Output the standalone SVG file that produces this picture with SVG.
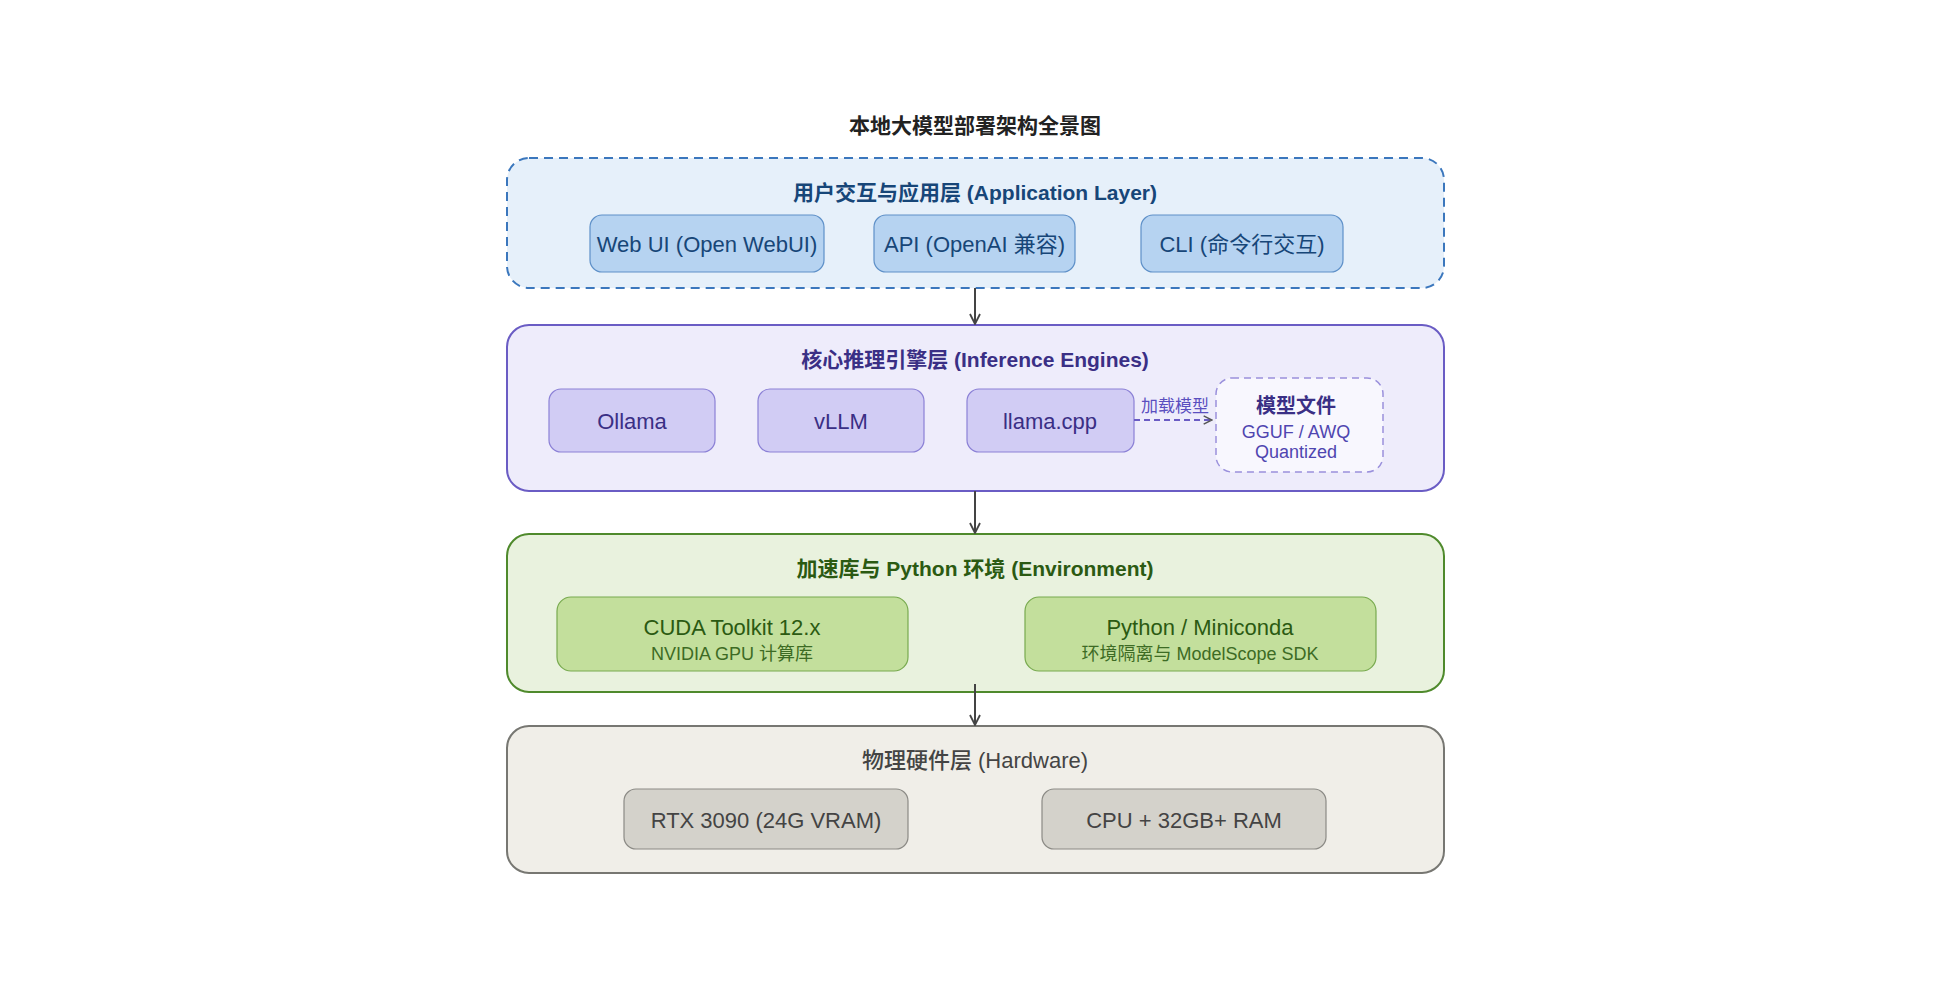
<svg xmlns="http://www.w3.org/2000/svg" width="1960" height="1000" viewBox="0 0 1960 1000">
<defs>
<marker id="arr" viewBox="0 0 12 12" refX="11" refY="6" markerWidth="12" markerHeight="12" markerUnits="userSpaceOnUse" orient="auto">
<path d="M1,1 L11,6 L1,11" fill="none" stroke="#444" stroke-width="1.8"/>
</marker>
<marker id="arr2" viewBox="0 0 12 12" refX="11" refY="6" markerWidth="10" markerHeight="10" markerUnits="userSpaceOnUse" orient="auto">
<path d="M1,1 L11,6 L1,11" fill="none" stroke="#555" stroke-width="1.8"/>
</marker>
</defs>
<style>
text{font-family:"Liberation Sans","Noto Sans CJK SC",sans-serif;text-anchor:middle;dominant-baseline:central}
.title{font-size:21px;font-weight:700;fill:#222}
.lt{font-size:21px;font-weight:700}
.nt{font-size:22px}
.st{font-size:18px}
.l1{fill:#e6f0fa;stroke:#3b77bd;stroke-width:2;stroke-dasharray:9 6}
.n1{fill:#b6d3f1;stroke:#5e90c8;stroke-width:1.2}
.t1{fill:#174678}
.l2{fill:#eeecfb;stroke:#6a5cc4;stroke-width:2}
.n2{fill:#d1ccf4;stroke:#8b80d6;stroke-width:1.2}
.t2{fill:#3a2f85}
.mf{fill:#f8f7fe;stroke:#9a90dc;stroke-width:1.5;stroke-dasharray:7 5}
.l3{fill:#e9f2de;stroke:#4f8a2c;stroke-width:2}
.n3{fill:#c3df9c;stroke:#78aa4f;stroke-width:1.2}
.t3{fill:#2b5a12}
.l4{fill:#f0eee8;stroke:#777772;stroke-width:2}
.n4{fill:#d4d2cb;stroke:#8b8a85;stroke-width:1.2}
.t4{fill:#444}
.conn{stroke:#444;stroke-width:2;fill:none}
</style>
<text class="title" x="975" y="125">本地大模型部署架构全景图</text>

<g id="layer-app">
<rect class="l1" x="507" y="158" width="937" height="130" rx="22"/>
<text class="lt t1" x="975" y="192">用户交互与应用层 (Application Layer)</text>
</g>
<g id="webui"><rect class="n1" x="590" y="215" width="234" height="57" rx="12"/><text class="nt t1" x="707" y="244">Web UI (Open WebUI)</text></g>
<g id="api"><rect class="n1" x="874" y="215" width="201" height="57" rx="12"/><text class="nt t1" x="974.5" y="244">API (OpenAI 兼容)</text></g>
<g id="cli"><rect class="n1" x="1141" y="215" width="202" height="57" rx="12"/><text class="nt t1" x="1242" y="244">CLI (命令行交互)</text></g>

<g id="layer-engine">
<rect class="l2" x="507" y="325" width="937" height="166" rx="22"/>
<text class="lt t2" x="975" y="359">核心推理引擎层 (Inference Engines)</text>
</g>
<g id="ollama"><rect class="n2" x="549" y="389" width="166" height="63" rx="12"/><text class="nt t2" x="632" y="421">Ollama</text></g>
<g id="vllm"><rect class="n2" x="758" y="389" width="166" height="63" rx="12"/><text class="nt t2" x="841" y="421">vLLM</text></g>
<g id="llamacpp"><rect class="n2" x="967" y="389" width="167" height="63" rx="12"/><text class="nt t2" x="1050" y="421">llama.cpp</text></g>
<g id="modelfile">
<rect class="mf" x="1216" y="378" width="167" height="94" rx="16"/>
<text class="t2" x="1296" y="406" style="font-size:20px;font-weight:700">模型文件</text>
<text x="1296" y="432" style="font-size:18px;fill:#4f45b0">GGUF / AWQ</text>
<text x="1296" y="452" style="font-size:18px;fill:#4f45b0">Quantized</text>
</g>

<g id="layer-env">
<rect class="l3" x="507" y="534" width="937" height="158" rx="22"/>
<text class="lt t3" x="975" y="568">加速库与 Python 环境 (Environment)</text>
</g>
<g id="cuda"><rect class="n3" x="557" y="597" width="351" height="74" rx="14"/><text class="nt t3" x="732" y="627">CUDA Toolkit 12.x</text><text class="st" x="732" y="654" style="fill:#3d6b24">NVIDIA GPU 计算库</text></g>
<g id="python"><rect class="n3" x="1025" y="597" width="351" height="74" rx="14"/><text class="nt t3" x="1200" y="627">Python / Miniconda</text><text class="st" x="1200" y="654" style="fill:#3d6b24">环境隔离与 ModelScope SDK</text></g>

<g id="layer-hw">
<rect class="l4" x="507" y="726" width="937" height="147" rx="22"/>
<text class="t4" x="975" y="760" style="font-size:22px;font-weight:500">物理硬件层 (Hardware)</text>
</g>
<g id="rtx"><rect class="n4" x="624" y="789" width="284" height="60" rx="12"/><text class="nt t4" x="766" y="820">RTX 3090 (24G VRAM)</text></g>
<g id="cpu"><rect class="n4" x="1042" y="789" width="284" height="60" rx="12"/><text class="nt t4" x="1184" y="820">CPU + 32GB+ RAM</text></g>

<g id="connectors">
<line class="conn" x1="975" y1="288" x2="975" y2="324" marker-end="url(#arr)"/>
<line class="conn" x1="975" y1="491" x2="975" y2="533" marker-end="url(#arr)"/>
<line class="conn" x1="975" y1="684" x2="975" y2="725" marker-end="url(#arr)"/>
<line x1="1134" y1="420" x2="1212" y2="420" stroke="#6a5cc4" stroke-width="2" stroke-dasharray="6 4" marker-end="url(#arr2)"/>
<text x="1175" y="406" style="font-size:17px;fill:#5a4fbf">加载模型</text>
</g>
</svg>
